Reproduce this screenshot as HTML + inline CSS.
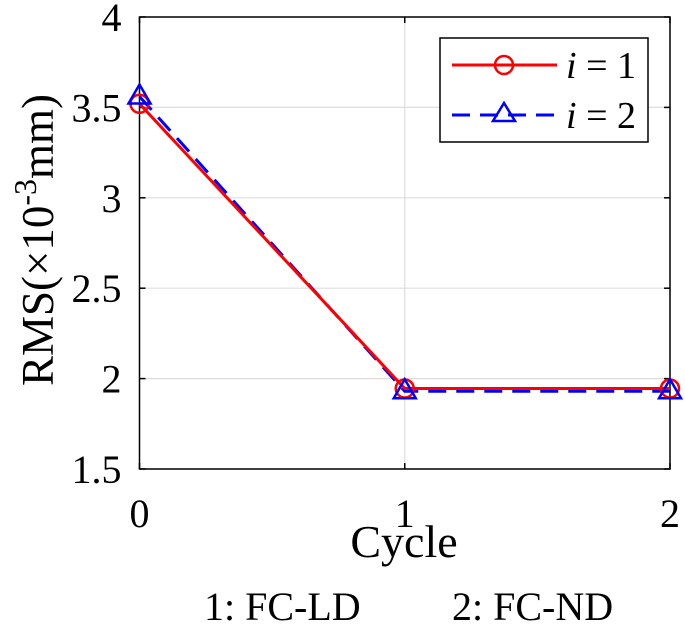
<!DOCTYPE html>
<html><head><meta charset="utf-8"><style>
body{margin:0;background:#fff;}
svg{display:block;font-family:"Liberation Serif",serif;}
</style></head><body>
<svg id="chart" width="685" height="625">
<g id="grid"></g>
<g id="axes"></g>
<g id="series"></g>
<text x="0" y="0" transform="translate(53,240) rotate(-90)" text-anchor="middle" font-size="45">RMS(×10<tspan dy="-17" font-size="32">-3</tspan><tspan dy="17">mm)</tspan></text>
<text x="404" y="557" text-anchor="middle" font-size="46">Cycle</text>
<text x="204" y="620" font-size="40">1: FC-LD</text>
<text x="452" y="620" font-size="40">2: FC-ND</text>
<g>
<rect x="440" y="38" width="208" height="104" fill="#fff" stroke="#000" stroke-width="1.5"/>
<g>
<line x1="452" y1="65" x2="557" y2="65" stroke="#f00" stroke-width="3"/>
<circle cx="504" cy="65" r="9" fill="none" stroke="#f00" stroke-width="2.5"/>
<text x="566" y="78" font-size="38"><tspan font-style="italic">i</tspan> = 1</text>
</g>
<g>
<line x1="452" y1="115" x2="557" y2="115" stroke="#00f" stroke-width="3" stroke-dasharray="18,10"/>
<polygon points="504,103 515,121 493,121" fill="none" stroke="#00f" stroke-width="2.5"/>
<text x="566" y="128" font-size="38"><tspan font-style="italic">i</tspan> = 2</text>
</g>
</g>
</svg>
<script>
const categories=[0,1,2];
const series1=[3.52,1.945,1.945];
const series2=[3.56,1.93,1.93];
const yTicks=[1.5,2,2.5,3,3.5,4];
const yTickLabels=["1.5","2","2.5","3","3.5","4"];
const xTickLabels=["0","1","2"];
const L=139.5,R=670,T=17,B=469;
const xs=v=>L+(v-0)/(2-0)*(R-L);
const ys=v=>B-(v-1.5)/(4-1.5)*(B-T);
const NS="http://www.w3.org/2000/svg";
function mk(tag,attrs,parent){const e=document.createElementNS(NS,tag);for(const k in attrs)e.setAttribute(k,attrs[k]);parent.appendChild(e);return e;}
const grid=document.getElementById('grid'),axes=document.getElementById('axes'),ser=document.getElementById('series');
yTicks.forEach((v,i)=>{
 const g=mk('line',{x1:L,x2:R,y1:ys(v),y2:ys(v),stroke:'#ddd','stroke-width':1.2},grid);
 
 
 mk('line',{x1:L,x2:L+6,y1:ys(v),y2:ys(v),stroke:'#000','stroke-width':1.5},axes);
 mk('line',{x1:R,x2:R-6,y1:ys(v),y2:ys(v),stroke:'#000','stroke-width':1.5},axes);
 const t=mk('text',{x:L-18,y:ys(v)+14,'text-anchor':'end','font-size':40},axes);
 t.textContent=yTickLabels[i];
 
 
});
categories.forEach((c,i)=>{
 const g=mk('line',{x1:xs(c),x2:xs(c),y1:T,y2:B,stroke:'#ddd','stroke-width':1.2},grid);
 
 
 mk('line',{x1:xs(c),x2:xs(c),y1:B,y2:B-6,stroke:'#000','stroke-width':1.5},axes);
 mk('line',{x1:xs(c),x2:xs(c),y1:T,y2:T+6,stroke:'#000','stroke-width':1.5},axes);
 const t=mk('text',{x:xs(c),y:527,'text-anchor':'middle','font-size':40},axes);
 t.textContent=xTickLabels[i];
 
 
});
mk('rect',{x:L,y:T,width:R-L,height:B-T,fill:'none',stroke:'#000','stroke-width':1.5},axes);
const p2=mk('polyline',{points:categories.map((c,i)=>xs(c)+','+ys(series2[i])).join(' '),fill:'none',stroke:'#00f','stroke-width':3,'stroke-dasharray':'18,10'},ser);


const p1=mk('polyline',{points:categories.map((c,i)=>xs(c)+','+ys(series1[i])).join(' '),fill:'none',stroke:'#f00','stroke-width':3},ser);


categories.forEach((c,i)=>{
 const m=mk('circle',{cx:xs(c),cy:ys(series1[i]),r:9,fill:'none',stroke:'#f00','stroke-width':2.5},ser);
 
 
 const x=xs(c),y=ys(series2[i]);
 const tr=mk('polygon',{points:`${x},${y-12} ${x+11},${y+7} ${x-11},${y+7}`,fill:'none',stroke:'#00f','stroke-width':2.5},ser);
 
 
});
</script>
</body></html>
